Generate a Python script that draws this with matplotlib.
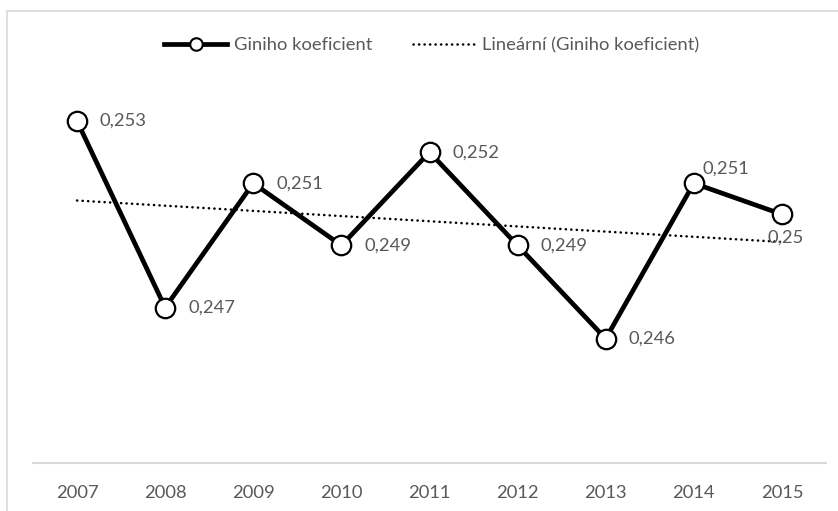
import matplotlib
matplotlib.use("Agg")
import matplotlib.pyplot as plt
import numpy as np
from matplotlib.lines import Line2D
from matplotlib.patches import Rectangle

years = ["2007", "2008", "2009", "2010", "2011", "2012", "2013", "2014", "2015"]
gini = [0.253, 0.247, 0.251, 0.249, 0.252, 0.249, 0.246, 0.251, 0.250]
labels = ["0,253", "0,247", "0,251", "0,249", "0,252", "0,249", "0,246", "0,251", "0,25"]
series_name = "Giniho koeficient"
trend_name = "Lineární (Giniho koeficient)"

# label placement - style only
label_pos = ["r", "r", "r", "r", "r", "r", "r", "ar", "b"]

plt.rcParams['font.family'] = ['Lato', 'DejaVu Sans']
W, H = 838, 511
fig = plt.figure(figsize=(W / 100, H / 100), dpi=100)
fig.patch.set_facecolor('white')

# chart border
fig.patches.append(Rectangle((7 / W, -0.1), 1.2, 1.1 - 11 / H, transform=fig.transFigure,
                             fill=False, edgecolor='#d9d9d9', lw=1.2))

ax = fig.add_axes([33 / W, 48 / H, (826 - 33) / W, (463 - 90) / H])
x = np.arange(len(years))
ax.set_xlim(-0.5, len(years) - 0.5)
ax.set_ylim(0.242, 0.254)

dot_style = (0, (0.1, 2.1))

# trendline
coef = np.polyfit(x, gini, 1)
trend = np.polyval(coef, x)
ax.plot(x, trend, color='black', lw=1.8, linestyle=dot_style, dash_capstyle='round', zorder=2)

ax.plot(x, gini, color='black', lw=3.4, marker='o', markersize=14,
        markerfacecolor='white', markeredgecolor='black', markeredgewidth=1.6,
        solid_joinstyle='miter', zorder=3)

txtc = '#595959'
fs = 13.2
for i, (v, lab) in enumerate(zip(gini, labels)):
    p = label_pos[i]
    if p == "r":
        ax.annotate(lab, (i, v), xytext=(16.5, 0), textcoords='offset points',
                    ha='left', va='center', fontsize=fs, color=txtc)
    elif p == "ar":
        ax.annotate(lab, (i, v), xytext=(6, 5), textcoords='offset points',
                    ha='left', va='bottom', fontsize=fs, color=txtc)
    else:
        ax.annotate(lab, (i, v), xytext=(3, -16.5), textcoords='offset points',
                    ha='center', va='center', fontsize=fs, color=txtc)

ax.set_xticks(x)
ax.set_xticklabels(years, fontsize=fs, color=txtc)
ax.tick_params(axis='x', length=0, pad=16)
ax.set_yticks([])
for s in ['top', 'right', 'left']:
    ax.spines[s].set_visible(False)
ax.spines['bottom'].set_color('#d9d9d9')
ax.spines['bottom'].set_linewidth(1.5)

handles = [
    Line2D([], [], color='black', lw=3.4, marker='o', markersize=9,
           markerfacecolor='white', markeredgecolor='black', markeredgewidth=1.5),
    Line2D([], [], color='black', lw=1.8, linestyle=dot_style, dash_capstyle='round'),
]
leg = fig.legend(handles, [series_name, trend_name], loc='center',
                 bbox_to_anchor=(432 / W, 1 - 45 / H), ncol=2, frameon=False,
                 fontsize=fs, handlelength=3.4, handletextpad=0.4, columnspacing=2.2,
                 labelcolor=txtc)

fig.savefig('out.png', dpi=100)
